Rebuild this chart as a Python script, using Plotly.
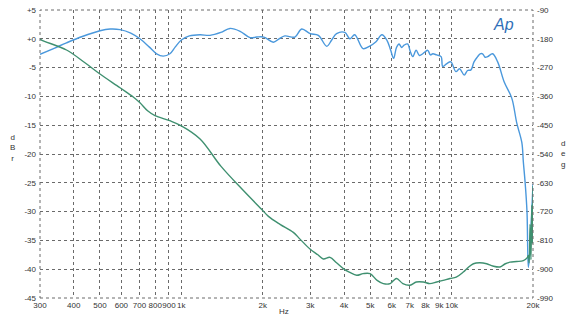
import plotly.graph_objects as go

# ---- data ----
freq_level = [300, 340, 376, 430, 500, 545, 593, 650, 703, 760, 810, 857, 907, 950, 1000,
              1071, 1173, 1277, 1400, 1513, 1650, 1795, 1900, 2020, 2190, 2300, 2415, 2630,
              2787, 2998, 3213, 3453, 3600, 3752, 4028, 4200, 4380, 4700, 4960, 5250, 5520,
              5770, 5950, 6100, 6250, 6390, 6530, 6670, 6870, 7030, 7180, 7390, 7600, 7820,
              8000, 8160, 8350, 8520, 8800, 9140, 9270, 9600, 9930, 10370, 10700, 11130,
              11450, 11790, 12100, 12480, 12750, 13020, 13300, 13590, 14170, 14800, 15650,
              16690, 17410, 18180, 18420, 18690, 19000, 19215, 19400, 19700, 20000]
level_dbr = [-2.7, -1.6, -0.7, 0.4, 1.4, 1.7, 1.6, 1.0, 0.0, -1.4, -2.6, -3.0, -2.6, -1.4, -0.2,
             0.5, 0.7, 0.6, 1.1, 1.8, 1.3, 0.2, 0.3, 0.3, -0.6, 0.0, 0.5, 0.3,
             1.7, 0.9, 0.6, -1.3, -0.2, 0.9, 1.1, 0.0, 0.7, -1.7, -1.3, -0.5, 0.7,
             -0.3, -2.0, -3.4, -1.5, -0.9, -1.5, -1.1, -0.9, -2.2, -3.1, -2.0, -2.9, -2.6,
             -2.2, -2.0, -2.8, -2.6, -2.8, -3.1, -4.8, -4.3, -4.0, -5.7, -5.2, -6.3,
             -5.5, -5.4, -4.0, -3.1, -2.6, -2.6, -3.2, -3.1, -2.6, -4.0, -7.5,
             -10.3, -14.6, -18.0, -21.4, -24.8, -30.0, -39.7, -38.0, -32.0, -25.2]

freq_phase = [300, 304, 376, 440, 500, 593, 664, 703, 750, 799, 907, 1000, 1173, 1400, 1700,
              1993, 2100, 2318, 2596, 2748, 2992, 3200, 3351, 3548, 3750, 3973, 4200, 4455,
              4700, 4990, 5300, 5587, 5917, 6100, 6261, 6600, 7013, 7400, 7855, 8300, 8807,
              9300, 9861, 10400, 11046, 11500, 12036, 12700, 13481, 14200, 15094, 15800,
              16444, 17400, 18420, 19000, 19215, 19350, 19500, 19650, 19800, 19900, 20000]
phase_deg = [-180, -184, -215, -255, -290, -333, -362, -380, -405, -420, -436, -452, -493, -578, -655,
             -715, -735, -760, -785, -806, -837, -855, -868, -863, -880, -898, -910, -919,
             -914, -914, -935, -945, -945, -935, -929, -945, -950, -940, -940, -945, -940,
             -935, -929, -925, -909, -895, -883, -880, -883, -890, -893, -883,
             -878, -876, -873, -865, -857, -880, -760, -870, -700, -820, -640]

x_ticks = [300, 400, 500, 600, 700, 800, 900, 1000, 2000, 3000, 4000, 5000, 6000, 7000, 8000, 9000, 10000, 20000]
x_labels = ["300", "400", "500", "600", "700", "800", "900", "1k", "2k", "3k", "4k", "5k", "6k", "7k", "8k", "9k", "10k", "20k"]
left_ticks = [5, 0, -5, -10, -15, -20, -25, -30, -35, -40, -45]
left_labels = ["+5", "+0", "-5", "-10", "-15", "-20", "-25", "-30", "-35", "-40", "-45"]
right_ticks = [-90, -180, -270, -360, -450, -540, -630, -720, -810, -900, -990]
right_labels = ["-90", "-180", "-270", "-360", "-450", "-540", "-630", "-720", "-810", "-900", "-990"]

fig = go.Figure()
fig.add_trace(go.Scatter(x=freq_phase, y=phase_deg, yaxis="y2", mode="lines",
                         line=dict(color="#3f9070", width=1.4), line_shape="spline"))
fig.add_trace(go.Scatter(x=freq_level, y=level_dbr, mode="lines",
                         line=dict(color="#4a98dc", width=1.4), line_shape="spline"))

FONT = "Arial, Liberation Sans, sans-serif"
tickfont = dict(family=FONT, size=8, color="#333333")
grid = dict(showgrid=True, gridcolor="#6a6a6a", griddash="dot", gridwidth=1, zeroline=False,
            showline=False, ticks="", tickfont=tickfont)

fig.update_layout(
    width=576, height=322,
    margin=dict(l=40, r=43, t=6, b=24),
    paper_bgcolor="white", plot_bgcolor="white",
    showlegend=False,
    xaxis=dict(type="log", range=[2.4771, 4.3010], tickvals=x_ticks, ticktext=x_labels,
               tickangle=0, ticklabelstandoff=1, **grid),
    yaxis=dict(range=[-45, 5], tickvals=left_ticks, ticktext=left_labels,
               ticklabelstandoff=3, **grid),
    yaxis2=dict(range=[-990, -90], tickvals=right_ticks, ticktext=right_labels,
                overlaying="y", side="right", showgrid=False, zeroline=False, ticks="",
                ticklabelstandoff=3, tickfont=tickfont),
    shapes=[dict(type="rect", xref="paper", yref="paper", x0=0, x1=1, y0=0, y1=1,
                 line=dict(color="#6a6a6a", width=1, dash="dot"))],
    annotations=[
        dict(text="d<br>B<br>r", xref="paper", yref="paper", x=-0.065, y=0.52, showarrow=False,
             font=dict(family=FONT, size=8, color="#333333")),
        dict(text="d<br>e<br>g", xref="paper", yref="paper", x=1.07, y=0.5, showarrow=False,
             font=dict(family=FONT, size=8, color="#333333")),
        dict(text="Hz", xref="paper", yref="paper", x=0.495, y=-0.048, showarrow=False,
             yanchor="middle", font=dict(family=FONT, size=8, color="#333333")),
        dict(text="<i>Ap</i>", xref="paper", yref="paper", x=0.965, y=0.985, showarrow=False,
             yanchor="top", font=dict(family=FONT, size=16, color="#2f6fb8")),
    ],
)

fig.write_html("out.html", config={"displayModeBar": False},
               post_script="document.body.style.margin='0';document.body.style.overflow='hidden';")
